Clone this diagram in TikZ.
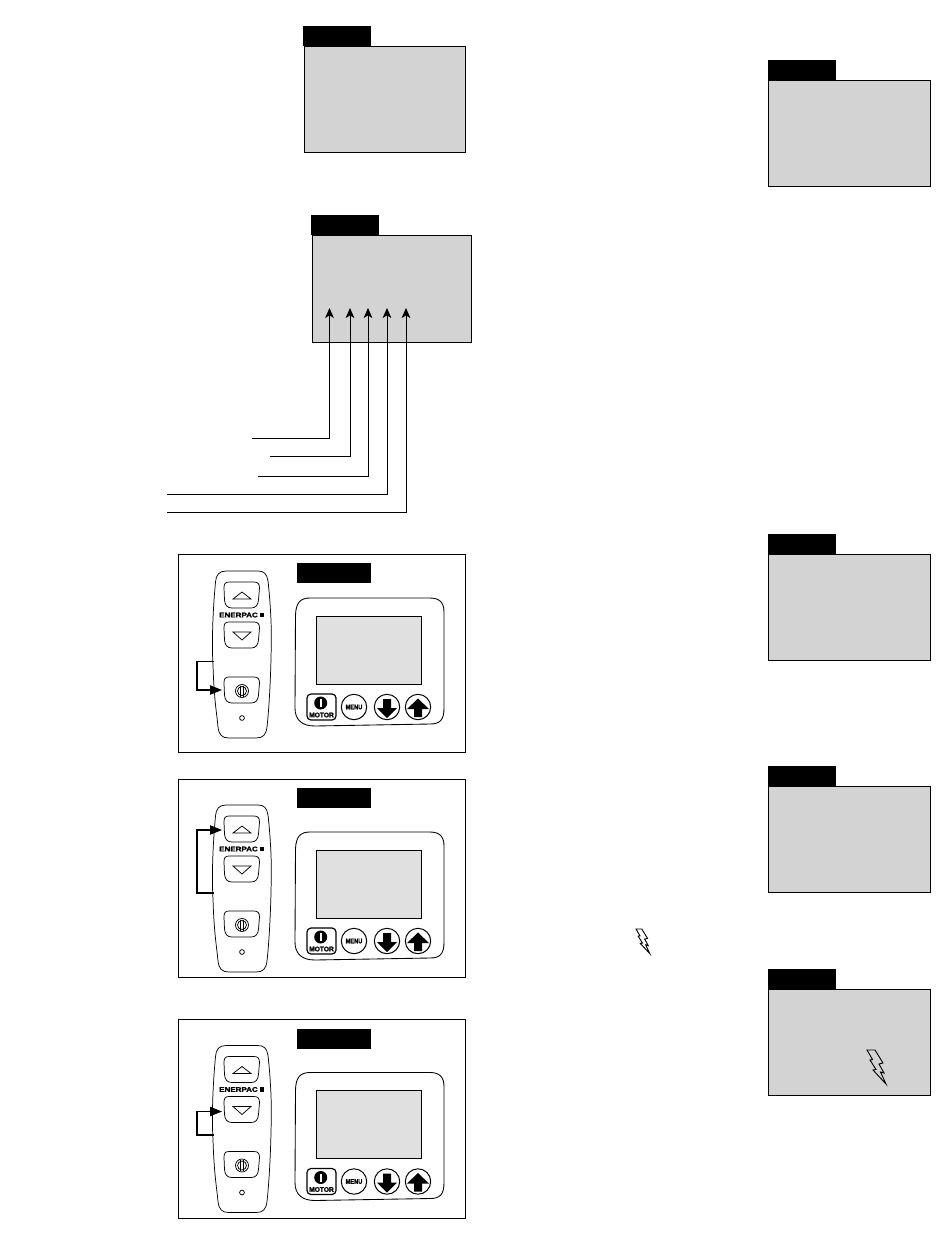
\documentclass[tikz,border=0pt]{standalone}
\usepackage{fontspec}
\setmainfont{Liberation Sans}
\newfontfamily\heavyfont[FakeBold=1.5]{Liberation Sans Bold}
\usetikzlibrary{arrows.meta}
\definecolor{boxgray}{HTML}{D3D3D3}
\definecolor{screengray}{HTML}{E0E0E0}
\newcommand{\remotebutton}[1]{%
  \draw[thinline,shift={(0,#1)}] (229,0) -- (254,0) .. controls (258,0) and (259.5,2) .. (259.5,6)
    -- (258.5,18) .. controls (258,23) and (256,26) .. (251,26) -- (232,26)
    .. controls (227,26) and (225,23) .. (224.5,18) -- (224,6) .. controls (224,2) and (225,0) .. (229,0) -- cycle;}
\tikzset{
  x=0.75pt,y=-0.75pt,
  graybox/.style={fill=boxgray,draw=black,line width=0.65pt},
  frameline/.style={draw=black,line width=0.65pt},
  thinline/.style={draw=black,line width=0.55pt},
  leader/.style={draw=black,line width=0.6pt,-{Stealth[length=7.5pt,width=6.5pt,inset=2pt]}},
  pointer/.style={draw=black,line width=0.8pt,-{Triangle[length=9pt,width=7pt]}},
  roundbtn/.style={draw=black,line width=0.75pt,fill=white},
  labeltext/.style={inner sep=0pt,font=\fontsize{5}{5}\selectfont\heavyfont},
  pics/panel/.style={code={
    % remote
    \draw[thinline] (226,571) .. controls (219,571) and (216,575) .. (215.5,582)
      .. controls (212,620) and (212,650) .. (213,665)
      .. controls (214,700) and (217,715) .. (218,727)
      .. controls (219,735) and (222,738) .. (229,738) -- (256,738)
      .. controls (263,738) and (266,735) .. (267,727)
      .. controls (270,700) and (272,650) .. (271,620)
      .. controls (270,600) and (269,590) .. (268,581)
      .. controls (267,574) and (264,571) .. (258,571) -- cycle;
    \remotebutton{582}
    \draw[thinline] (233,599) -- (242,592) -- (251,599) -- cycle;
    \node[labeltext,xscale=1.2] (ener) at (238.5,615) {ENERPAC};
    \fill (260,612.5) rectangle (264,617);
    \remotebutton{622}
    \draw[thinline] (233,632) -- (251,632) -- (242,640) -- cycle;
    \remotebutton{677}
    \draw[thinline] (242,691) circle (6.5);
    \draw[thinline] (242,691) circle (4.5);
    \draw[thinline] (240.5,685.5) -- (240.5,696.5) (243.5,685.5) -- (243.5,696.5);
    \draw[thinline] (242,718) circle (2.4);
    % display
    \draw[frameline] (310,598) -- (430,598) .. controls (440,598) and (444,603) .. (444,612)
      -- (444,708) .. controls (444,720) and (440,724) .. (430,724) -- (315,726)
      .. controls (302,726) and (295,720) .. (295,708) -- (295.5,615)
      .. controls (296,603) and (300,598) .. (310,598) -- cycle;
    \draw[fill=screengray,draw=black,line width=0.7pt] (316.5,616) rectangle (421.5,684);
    \draw[draw=black,line width=0.9pt,rounded corners=3pt] (307,694) rectangle (336,720);
    \fill (320.7,703) circle (6.5);
    \fill[white] (319.7,699) rectangle (321.7,707);
    \node[labeltext] (motor) at (321.5,715) {MOTOR};
    \draw[roundbtn] (354,707) circle (12.7);
    \node[labeltext,xscale=.85] (menu) at (354,707) {MENU};
    \draw[roundbtn] (387,707) circle (12.7);
    \fill (383,699) -- (391,699) -- (391,708) -- (397,708) -- (387,718) -- (377,708) -- (383,708) -- cycle;
    \draw[roundbtn] (418,707) circle (12.7);
    \fill (414,717) -- (422,717) -- (422,709) -- (429,709) -- (418,698.5) -- (407,709) -- (414,709) -- cycle;
  }},
  pics/bolt/.style={code={
    \draw[draw=black,line width=0.7pt,line join=miter] (0,0) -- (8,0) -- (16,13) -- (12,14) -- (17,23) -- (13.5,22) -- (19,34) -- (6,20) -- (9,19.5) -- (3,10) -- (5.5,9.5) -- cycle;
  }}
}
\begin{document}
\begin{tikzpicture}
\useasboundingbox[fill=white] (0,0) rectangle (950,1260);
% gray boxes with tabs
\draw[graybox] (304,46) rectangle (465,152);
\fill[black] (303,26) rectangle (371,46);
\draw[graybox] (312,235) rectangle (471,342);
\fill[black] (311,215) rectangle (379,235);
\draw[graybox] (768,80) rectangle (930,186);
\fill[black] (768,60) rectangle (836,80);
\draw[graybox] (768,554) rectangle (930,660);
\fill[black] (768,534) rectangle (836,554);
\draw[graybox] (768,786) rectangle (930,892);
\fill[black] (768,766) rectangle (836,786);
\draw[graybox] (768,989) rectangle (930,1095);
\fill[black] (768,969) rectangle (836,989);
% leaders
\coordinate (t1) at (329.5,308); \coordinate (c1) at (329.5,438); \coordinate (s1) at (252,438);
\coordinate (t2) at (350,308);   \coordinate (c2) at (350,456);   \coordinate (s2) at (270,456);
\coordinate (t3) at (368,308);   \coordinate (c3) at (368,476);   \coordinate (s3) at (258,476);
\coordinate (t4) at (387,308);   \coordinate (c4) at (387,494);   \coordinate (s4) at (167,494);
\coordinate (t5) at (406,308);   \coordinate (c5) at (406,512);   \coordinate (s5) at (167,512);
\draw[leader] (s1) -- (c1) -- (t1);
\draw[leader] (s2) -- (c2) -- (t2);
\draw[leader] (s3) -- (c3) -- (t3);
\draw[leader] (s4) -- (c4) -- (t4);
\draw[leader] (s5) -- (c5) -- (t5);
% panel frames and labels
\draw[frameline] (178,554) rectangle (465,752);
\fill[black] (297,563) rectangle (371,583);
\draw[frameline] (178,779) rectangle (465,977);
\fill[black] (297,788) rectangle (371,808);
\draw[frameline] (178,1019) rectangle (465,1218);
\fill[black] (297,1029) rectangle (371,1049);
% panels
\pic at (0,0) {panel};
\pic at (0,234) {panel};
\pic at (0,474.5) {panel};
% pointers
\coordinate (a1) at (214,661.5); \coordinate (b1) at (197,661.5); \coordinate (d1) at (197,690); \coordinate (e1) at (222,690);
\draw[pointer] (a1) -- (b1) -- (d1) -- (e1);
\coordinate (a2) at (214,893); \coordinate (b2) at (197,893); \coordinate (d2) at (197,830); \coordinate (e2) at (222,830);
\draw[pointer] (a2) -- (b2) -- (d2) -- (e2);
\coordinate (a3) at (214,1135); \coordinate (b3) at (197,1135); \coordinate (d3) at (197,1111.5); \coordinate (e3) at (222,1111.5);
\draw[pointer] (a3) -- (b3) -- (d3) -- (e3);
% bolts
\pic[scale=.72] at (636,929) {bolt};
\pic at (867,1050) {bolt};
\end{tikzpicture}
\end{document}
